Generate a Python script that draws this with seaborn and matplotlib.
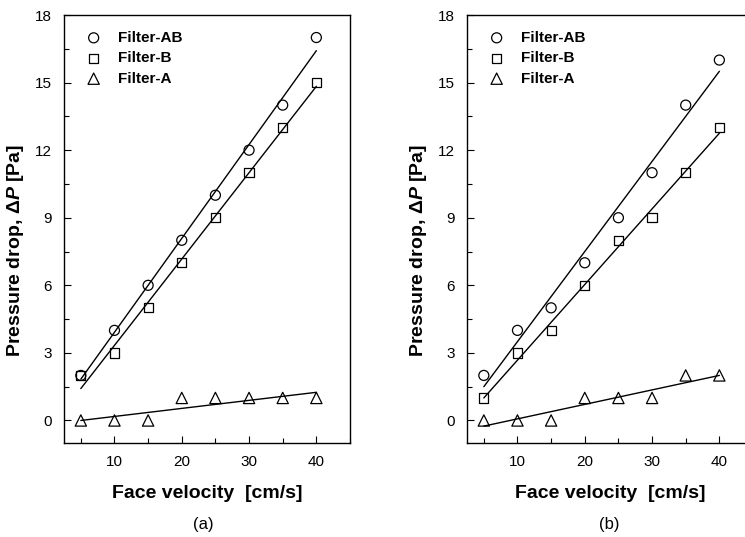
import matplotlib
matplotlib.use("Agg")
import matplotlib.pyplot as plt
import seaborn as sns
import numpy as np
import pandas as pd
from matplotlib.ticker import MultipleLocator

# ---- data ----
velocity = [5, 10, 15, 20, 25, 30, 35, 40]
series_names = ["Filter-AB", "Filter-B", "Filter-A"]

a_filter_ab = [2, 4, 6, 8, 10, 12, 14, 17]
a_filter_b = [2, 3, 5, 7, 9, 11, 13, 15]
a_filter_a = [0, 0, 0, 1, 1, 1, 1, 1]

b_filter_ab = [2, 4, 5, 7, 9, 11, 14, 16]
b_filter_b = [1, 3, 4, 6, 8, 9, 11, 13]
b_filter_a = [0, 0, 0, 1, 1, 1, 2, 2]

x_ticks = [10, 20, 30, 40]
y_ticks = [0, 3, 6, 9, 12, 15, 18]
panel_labels = ["(a)", "(b)"]

sns.set_style("ticks")
plt.rcParams["font.family"] = ["Liberation Sans", "DejaVu Sans"]
plt.rcParams["text.color"] = "black"
plt.rcParams["axes.labelcolor"] = "black"
plt.rcParams["xtick.color"] = "black"
plt.rcParams["ytick.color"] = "black"
plt.rcParams["axes.edgecolor"] = "black"
plt.rcParams["mathtext.fontset"] = "custom"
plt.rcParams["mathtext.rm"] = "Liberation Sans:bold"
plt.rcParams["mathtext.it"] = "Liberation Sans:italic:bold"
plt.rcParams["mathtext.bf"] = "Liberation Sans:bold"

fig = plt.figure(figsize=(7.45, 5.37), dpi=100)
ax_a = fig.add_axes([64 / 745, 94 / 537, 286 / 745, 428 / 537])
ax_b = fig.add_axes([467 / 745, 94 / 537, 286 / 745, 428 / 537])

marker_styles = {"Filter-AB": ("o", 52), "Filter-B": ("s", 44), "Filter-A": ("^", 66)}

def draw_panel(ax, values, label, label_x):
    df = pd.DataFrame({
        "v": velocity * 3,
        "dp": values[0] + values[1] + values[2],
        "series": sum([[n] * len(velocity) for n in series_names], []),
    })
    ax.set_xlim(2.5, 45)
    ax.set_ylim(-1, 18)
    for name in series_names:
        sub = df[df["series"] == name]
        sns.regplot(data=sub, x="v", y="dp", ax=ax, scatter=False, ci=None,
                    color="black", line_kws={"linewidth": 1.0})
    for name in series_names:
        sub = df[df["series"] == name]
        m, s = marker_styles[name]
        sns.scatterplot(data=sub, x="v", y="dp", ax=ax, marker=m, s=s,
                        facecolor="none", edgecolor="black", linewidth=0.9,
                        label=name, zorder=3)
    ax.set_xlim(2.5, 45)
    ax.set_ylim(-1, 18)
    ax.set_xticks(x_ticks)
    ax.set_yticks(y_ticks)
    ax.xaxis.set_minor_locator(MultipleLocator(5))
    ax.yaxis.set_minor_locator(MultipleLocator(1.5))
    ax.tick_params(which="both", direction="in", width=0.8, colors="black",
                   labelsize=11)
    ax.tick_params(which="major", length=5)
    ax.tick_params(which="minor", length=3.5)
    ax.tick_params(axis="y", pad=8.5)
    ax.tick_params(axis="x", pad=9)
    for sp in ax.spines.values():
        sp.set_visible(True)
        sp.set_color("black")
        sp.set_linewidth(1.0)
    ax.set_xlabel("Face velocity  [cm/s]", fontsize=14, fontweight="bold",
                  color="black")
    ax.set_ylabel(r"Pressure drop, $\Delta\mathit{P}$ [Pa]", fontsize=14,
                  fontweight="bold", color="black")
    ax.yaxis.set_label_coords(-0.133, 0.449)
    ax.xaxis.set_label_coords(0.5, -0.098)
    leg = ax.legend(loc="upper left", bbox_to_anchor=(0.077, 0.963), frameon=False,
                    borderaxespad=0, borderpad=0, handlelength=1.0,
                    handletextpad=1.1, labelspacing=0.42,
                    prop={"size": 11, "weight": "bold"})
    for t in leg.get_texts():
        t.set_color("black")
    fig.text(label_x / 745, 1 - 524 / 537, label, ha="center", va="center",
             fontsize=12, color="black")

draw_panel(ax_a, [a_filter_ab, a_filter_b, a_filter_a], panel_labels[0], 203)
draw_panel(ax_b, [b_filter_ab, b_filter_b, b_filter_a], panel_labels[1], 609)

fig.savefig("out.png", dpi=100)
